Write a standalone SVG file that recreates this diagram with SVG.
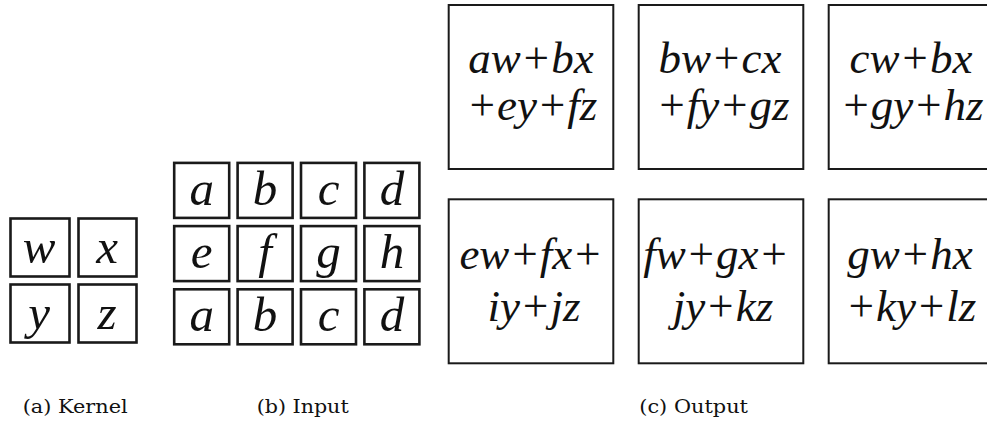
<svg xmlns="http://www.w3.org/2000/svg" width="987" height="425" viewBox="0 0 987 425">
  <style>
    .cell { fill: #ffffff; stroke: #1a1a1a; stroke-width: 2.6; }
    .out { fill: #ffffff; stroke: #1a1a1a; stroke-width: 2; }
    .var { font-family: "Liberation Serif", "Times New Roman", serif; font-style: italic; font-size: 49px; fill: #111; text-anchor: middle; }
    .expr { font-family: "Liberation Serif", "Times New Roman", serif; font-style: italic; font-size: 45px; fill: #111; text-anchor: middle; }
    .cap { font-family: "DejaVu Serif", "Liberation Serif", serif; font-size: 19px; fill: #111; }
  </style>
  <rect width="987" height="425" fill="#ffffff"/>

  <g id="kernel">
    <g id="k-w"><rect class="cell" x="10.5" y="218.5" width="59" height="58"/><text class="var" x="39" y="263">w</text></g>
    <g id="k-x"><rect class="cell" x="78.5" y="218.5" width="58" height="58"/><text class="var" x="107" y="263">x</text></g>
    <g id="k-y"><rect class="cell" x="10.5" y="284.5" width="59" height="58"/><text class="var" x="39" y="328.5">y</text></g>
    <g id="k-z"><rect class="cell" x="78.5" y="284.5" width="58" height="58"/><text class="var" x="107" y="328.5">z</text></g>
  </g>

  <g id="input">
    <g id="i-a1"><rect class="cell" x="174.2" y="162.9" width="55" height="55"/><text class="var" x="201.7" y="205">a</text></g>
    <g id="i-b1"><rect class="cell" x="237.6" y="162.9" width="55" height="55"/><text class="var" x="265.1" y="205">b</text></g>
    <g id="i-c1"><rect class="cell" x="301" y="162.9" width="55" height="55"/><text class="var" x="328.5" y="205">c</text></g>
    <g id="i-d1"><rect class="cell" x="364.4" y="162.9" width="55" height="55"/><text class="var" x="391.9" y="205">d</text></g>
    <g id="i-e"><rect class="cell" x="174.2" y="226.1" width="55" height="55"/><text class="var" x="201.7" y="268">e</text></g>
    <g id="i-f"><rect class="cell" x="237.6" y="226.1" width="55" height="55"/><text class="var" x="265.1" y="268">f</text></g>
    <g id="i-g"><rect class="cell" x="301" y="226.1" width="55" height="55"/><text class="var" x="328.5" y="268">g</text></g>
    <g id="i-h"><rect class="cell" x="364.4" y="226.1" width="55" height="55"/><text class="var" x="391.9" y="268">h</text></g>
    <g id="i-a2"><rect class="cell" x="174.2" y="289.3" width="55" height="55"/><text class="var" x="201.7" y="331">a</text></g>
    <g id="i-b2"><rect class="cell" x="237.6" y="289.3" width="55" height="55"/><text class="var" x="265.1" y="331">b</text></g>
    <g id="i-c2"><rect class="cell" x="301" y="289.3" width="55" height="55"/><text class="var" x="328.5" y="331">c</text></g>
    <g id="i-d2"><rect class="cell" x="364.4" y="289.3" width="55" height="55"/><text class="var" x="391.9" y="331">d</text></g>
  </g>

  <g id="output">
    <g id="o-1"><rect class="out" x="448.7" y="5" width="164.6" height="164"/>
      <text class="expr" x="531" y="73">aw+bx</text><text class="expr" x="532" y="120">+ey+fz</text></g>
    <g id="o-2"><rect class="out" x="638.7" y="5" width="164.6" height="164"/>
      <text class="expr" x="720" y="73">bw+cx</text><text class="expr" x="723" y="120">+fy+gz</text></g>
    <g id="o-3"><rect class="out" x="828.7" y="5" width="164.6" height="164"/>
      <text class="expr" x="911" y="73">cw+bx</text><text class="expr" x="912" y="120">+gy+hz</text></g>
    <g id="o-4"><rect class="out" x="448.7" y="199.3" width="164.6" height="164"/>
      <text class="expr" x="531" y="269">ew+fx+</text><text class="expr" x="534" y="321">iy+jz</text></g>
    <g id="o-5"><rect class="out" x="638.7" y="199.3" width="164.6" height="164"/>
      <text class="expr" x="716" y="269">fw+gx+</text><text class="expr" x="723" y="321">jy+kz</text></g>
    <g id="o-6"><rect class="out" x="828.7" y="199.3" width="164.6" height="164"/>
      <text class="expr" x="910" y="269">gw+hx</text><text class="expr" x="911" y="321">+ky+lz</text></g>
  </g>

  <g id="connectors"></g>

  <g id="captions">
    <text class="cap" x="22.7" y="413" textLength="105" lengthAdjust="spacingAndGlyphs">(a) Kernel</text>
    <text class="cap" x="256.7" y="413" textLength="92" lengthAdjust="spacingAndGlyphs">(b) Input</text>
    <text class="cap" x="639.3" y="413" textLength="108.7" lengthAdjust="spacingAndGlyphs">(c) Output</text>
  </g>
</svg>
